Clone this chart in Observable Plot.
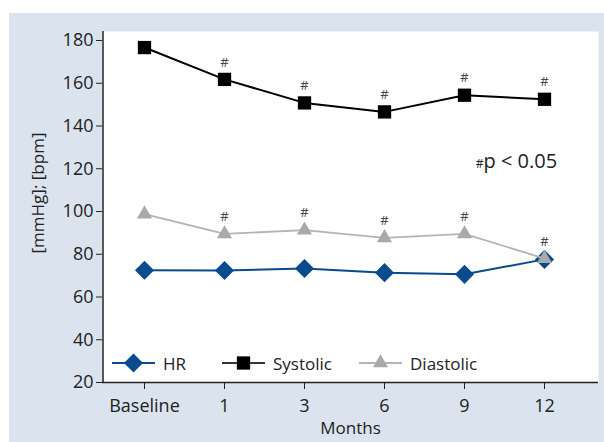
<!DOCTYPE html>
<html>
<head>
<meta charset="utf-8">
<script src="https://cdn.jsdelivr.net/npm/d3@7"></script>
<script src="https://cdn.jsdelivr.net/npm/@observablehq/plot@0.6"></script>
<style>
  html, body { margin: 0; padding: 0; background: #ffffff; }
  #wrap { position: relative; width: 604px; height: 442px; overflow: hidden; }
  #bg { position: absolute; left: 9px; top: 13px; width: 595px; height: 429px; background: #dbe4ee; }
  #chart { position: absolute; left: 0; top: 0; }
  #legend { position: absolute; left: 0; top: 0; pointer-events: none; }
</style>
</head>
<body>
<div id="wrap">
  <div id="bg"></div>
  <div id="chart"></div>
  <div id="legend"></div>
</div>
<script>
// ---- data ----
const months = ["Baseline", "1", "3", "6", "9", "12"];
const hr = [72.5, 72.4, 73.3, 71.4, 70.6, 77.6];
const systolic = [176.7, 161.8, 150.8, 146.6, 154.4, 152.5];
const diastolic = [98.8, 89.5, 91.3, 87.7, 89.5, 78.0];
const sigSystolic = [false, true, true, true, true, true];
const sigDiastolic = [false, true, true, true, true, true];
const yTicks = [20, 40, 60, 80, 100, 120, 140, 160, 180];
const seriesNames = ["HR", "Systolic", "Diastolic"];
const yLabel = "[mmHg]; [bpm]";
const xLabel = "Months";
const noteSymbol = "#";
const noteText = "p < 0.05";

// ---- styles ----
const colHR = "#0a4a8f";
const colSys = "#000000";
const colDiaLine = "#b4b4b4";
const colDiaMark = "#a7a9ac";
const textCol = "#222222";
const font = "'Open Sans', 'DejaVu Sans', sans-serif";

const rows = (vals, sig) => months.map((m, i) => ({month: m, value: vals[i], sig: sig ? sig[i] : false}));
const hrRows = rows(hr);
const sysRows = rows(systolic, sigSystolic);
const diaRows = rows(diastolic, sigDiastolic);

const rSquare = 7.5, rDiamond = 8.6, rTriangle = 5.6;

const chart = Plot.plot({
  width: 604,
  height: 442,
  marginLeft: 102,
  marginRight: 6,
  marginTop: 31,
  marginBottom: 60,
  style: {background: "transparent", fontFamily: font, fontSize: "18px", color: textCol},
  x: {type: "point", domain: months, padding: 0, insetLeft: 41.5, insetRight: 54, tickSize: 7, tickPadding: 10, label: null},
  y: {domain: [20, 180], ticks: yTicks, insetTop: 9, tickSize: 6, tickPadding: 3, label: null},
  marks: [
    Plot.frame({fill: "white", stroke: null}),
    Plot.ruleY([20], {stroke: "#222", strokeWidth: 1.5}),
    Plot.ruleX([months[0]], {dx: -41.5, stroke: "#222", strokeWidth: 1.5}),
    // HR
    Plot.line(hrRows, {x: "month", y: "value", stroke: colHR, strokeWidth: 2}),
    Plot.dot(hrRows, {x: "month", y: "value", symbol: "diamond2", r: rDiamond, fill: colHR, stroke: null}),
    // Systolic
    Plot.line(sysRows, {x: "month", y: "value", stroke: colSys, strokeWidth: 2}),
    Plot.dot(sysRows, {x: "month", y: "value", symbol: "square", r: rSquare, fill: colSys, stroke: null}),
    // Diastolic
    Plot.line(diaRows, {x: "month", y: "value", stroke: colDiaLine, strokeWidth: 1.8}),
    Plot.dot(diaRows, {x: "month", y: "value", symbol: "triangle", r: rTriangle, fill: colDiaMark, stroke: null}),
    // significance marks
    Plot.text(sysRows.filter(d => d.sig), {x: "month", y: "value", text: () => noteSymbol, dy: -17, fontSize: 13, fill: "#444"}),
    Plot.text(diaRows.filter(d => d.sig), {x: "month", y: "value", text: () => noteSymbol, dy: -17, fontSize: 13, fill: "#444"}),
    // note
    Plot.text([noteSymbol], {text: d => d, frameAnchor: "top-right", textAnchor: "middle", lineAnchor: "middle", dx: -119, dy: 133, fontSize: 12, fill: textCol}),
    Plot.text([noteText], {text: d => d, frameAnchor: "top-right", textAnchor: "start", lineAnchor: "middle", dx: -115, dy: 130, fontSize: 20, fill: textCol}),
    // axis titles
    Plot.text([yLabel], {text: d => d, frameAnchor: "left", textAnchor: "middle", lineAnchor: "middle", rotate: -90, dx: -64, dy: -14, fontSize: 17, fill: textCol}),
    Plot.text([xLabel], {text: d => d, frameAnchor: "bottom", textAnchor: "middle", lineAnchor: "middle", dy: 46, fontSize: 17, fill: textCol})
  ]
});
document.getElementById("chart").appendChild(chart);

// ---- legend (inside the plot area) ----
const lg = d3.select("#legend").append("svg")
  .attr("width", 604).attr("height", 442)
  .style("font-family", font).style("font-size", "17px");
const items = [
  {name: seriesNames[0], line: colHR, fill: colHR, symbol: d3.symbolDiamond2, r: rDiamond, x0: 112},
  {name: seriesNames[1], line: "#333", fill: colSys, symbol: d3.symbolSquare, r: rSquare, x0: 222},
  {name: seriesNames[2], line: colDiaLine, fill: colDiaMark, symbol: d3.symbolTriangle, r: rTriangle, x0: 359}
];
const ly = 363;
items.forEach(it => {
  const g = lg.append("g");
  g.append("line").attr("x1", it.x0).attr("x2", it.x0 + 43).attr("y1", ly).attr("y2", ly)
    .attr("stroke", it.line).attr("stroke-width", 2);
  g.append("path").attr("d", d3.symbol(it.symbol, Math.PI * it.r * it.r)())
    .attr("transform", `translate(${it.x0 + 21.5},${ly})`).attr("fill", it.fill);
  g.append("text").attr("x", it.x0 + 51).attr("y", ly + 1).attr("dy", "0.35em")
    .attr("fill", textCol).text(it.name);
});
</script>
</body>
</html>
